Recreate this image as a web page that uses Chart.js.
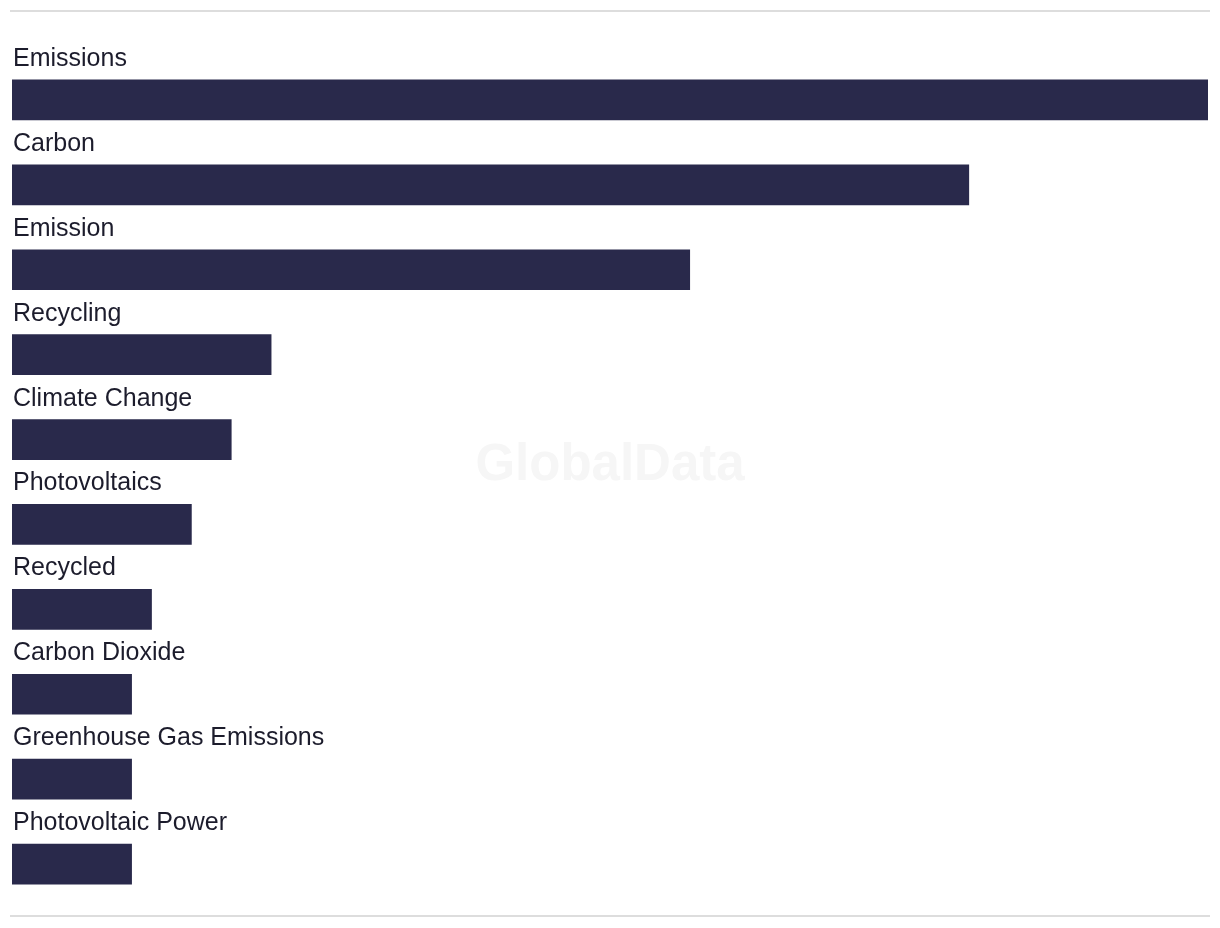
<!DOCTYPE html>
<html>
<head>
<meta charset="utf-8">
<script src="https://cdn.jsdelivr.net/npm/chart.js@4/dist/chart.umd.min.js"></script>
<style>
html,body{margin:0;padding:0;background:#fff;}
#wrap{position:relative;width:1220px;height:928px;}
</style>
</head>
<body>
<div id="wrap"><canvas id="c" width="1220" height="928"></canvas></div>
<script>
const categories = ["Emissions","Carbon","Emission","Recycling","Climate Change","Photovoltaics","Recycled","Carbon Dioxide","Greenhouse Gas Emissions","Photovoltaic Power"];
const values = [60,48,34,13,11,9,7,6,6,6];
const barColor = "#29294b";
const labelFont = '25px "Liberation Sans", Arial, sans-serif';

const decor = {
  id: 'decor',
  beforeDatasetsDraw(chart){
    const ctx = chart.ctx;
    ctx.save();
    ctx.fillStyle = '#f6f6f6';
    ctx.font = 'bold 51px "Liberation Sans", Arial, sans-serif';
    ctx.textAlign = 'center';
    ctx.textBaseline = 'middle';
    ctx.fillText('GlobalData', 610, 466);
    ctx.fillStyle = '#dddddd';
    ctx.fillRect(10, 10, 1200, 2);
    ctx.fillRect(10, 915, 1200, 2);
    ctx.restore();
  },
  afterDatasetsDraw(chart){
    const ctx = chart.ctx;
    const meta = chart.getDatasetMeta(0);
    ctx.save();
    ctx.fillStyle = '#1c1c2c';
    ctx.font = labelFont;
    ctx.textAlign = 'left';
    ctx.textBaseline = 'alphabetic';
    meta.data.forEach((bar, i) => {
      const top = bar.y - bar.height/2;
      ctx.fillText(categories[i], chart.chartArea.left + 1, top - 14);
    });
    ctx.restore();
  }
};

new Chart(document.getElementById('c'), {
  type: 'bar',
  data: {
    labels: categories,
    datasets: [{ data: values, backgroundColor: barColor, borderWidth: 0, barThickness: 40 }]
  },
  options: {
    indexAxis: 'y',
    responsive: false,
    animation: false,
    layout: { padding: { left: 12, right: 12, top: 57.5, bottom: 21.5 } },
    plugins: { legend: { display: false }, tooltip: { enabled: false } },
    scales: {
      x: { display: false, min: 0, max: 60 },
      y: { display: false }
    }
  },
  plugins: [decor]
});
</script>
</body>
</html>
